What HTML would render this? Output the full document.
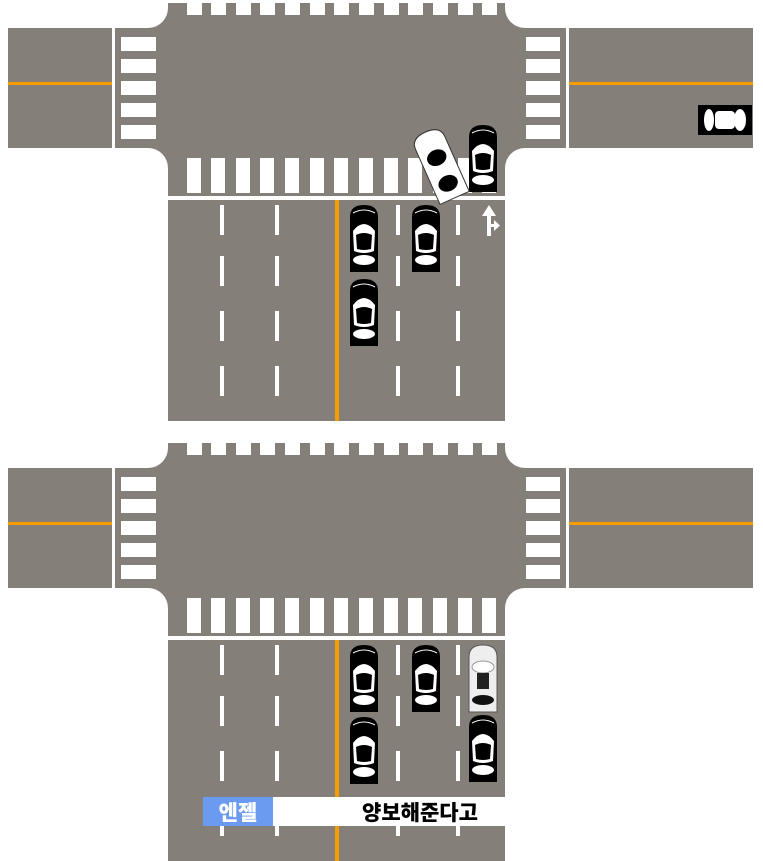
<!DOCTYPE html>
<html><head><meta charset="utf-8"><style>
html,body{margin:0;padding:0;background:#fff;width:763px;height:861px;overflow:hidden}
svg{display:block}
</style></head><body>
<svg width="763" height="861" viewBox="0 0 763 861" xmlns="http://www.w3.org/2000/svg">
<defs>
<g id="car">
  <path d="M0,12 Q0,0 14,0 Q28,0 28,12 L28,67 L0,67 Z" fill="#000"/>
  <path d="M3,26 Q14,12 25,26 L24,46 Q14,50 4,46 Z" fill="#fff"/>
  <path d="M6,30 Q14,26 22,30 L21,44 Q14,46 7,44 Z" fill="#000"/>
  <ellipse cx="14" cy="55" rx="11" ry="5" fill="#fff"/>
  <path d="M3,8 Q14,2 25,8" stroke="#fff" stroke-width="1" fill="none"/>
</g>
<g id="wcar">
  <path d="M0,12 Q0,0 14,0 Q28,0 28,12 L28,67 L0,67 Z" fill="#eee" stroke="#555" stroke-width="1"/>
  <ellipse cx="14" cy="22" rx="11" ry="6" fill="#fff" stroke="#999"/>
  <rect x="8" y="28" width="12" height="16" fill="#222"/>
  <ellipse cx="14" cy="55" rx="11" ry="5" fill="#111"/>
</g>
<g id="scene">
  <rect x="8" y="28" width="104" height="120" fill="#857f79"/>
  <rect x="115" y="28" width="451" height="120" fill="#857f79"/>
  <rect x="569" y="28" width="184" height="120" fill="#857f79"/>
  <rect x="168" y="3" width="337" height="193" fill="#857f79"/>
  <rect x="148" y="8" width="20" height="20" fill="#857f79"/>
  <rect x="505" y="8" width="20" height="20" fill="#857f79"/>
  <rect x="148" y="148" width="20" height="20" fill="#857f79"/>
  <rect x="505" y="148" width="20" height="20" fill="#857f79"/>
  <circle cx="148" cy="8" r="20" fill="#fff"/>
  <circle cx="525" cy="8" r="20" fill="#fff"/>
  <circle cx="148" cy="168" r="20" fill="#fff"/>
  <circle cx="525" cy="168" r="20" fill="#fff"/>
  <rect x="8" y="82" width="104" height="3" fill="#f59d00"/>
  <rect x="569" y="82" width="184" height="3" fill="#f59d00"/>
  <g fill="#fff">
    <rect x="121" y="37" width="35" height="14"/><rect x="121" y="59" width="35" height="14"/>
    <rect x="121" y="81" width="35" height="14"/><rect x="121" y="103" width="35" height="14"/>
    <rect x="121" y="125" width="35" height="14"/>
    <rect x="526" y="37" width="34" height="14"/><rect x="526" y="59" width="34" height="14"/>
    <rect x="526" y="81" width="34" height="14"/><rect x="526" y="103" width="34" height="14"/>
    <rect x="526" y="125" width="34" height="14"/>
  </g>
  <g fill="#fff">
    <rect x="187" y="3" width="15" height="12"/><rect x="211" y="3" width="15" height="12"/>
    <rect x="236" y="3" width="15" height="12"/><rect x="260" y="3" width="15" height="12"/>
    <rect x="285" y="3" width="15" height="12"/><rect x="310" y="3" width="15" height="12"/>
    <rect x="334" y="3" width="15" height="12"/><rect x="359" y="3" width="15" height="12"/>
    <rect x="384" y="3" width="15" height="12"/><rect x="408" y="3" width="15" height="12"/>
    <rect x="433" y="3" width="15" height="12"/><rect x="458" y="3" width="15" height="12"/>
    <rect x="482" y="3" width="15" height="12"/>
  </g>
  <g fill="#fff">
    <rect x="187" y="158" width="14" height="35"/><rect x="211" y="158" width="14" height="35"/>
    <rect x="236" y="158" width="14" height="35"/><rect x="260" y="158" width="14" height="35"/>
    <rect x="285" y="158" width="14" height="35"/><rect x="310" y="158" width="14" height="35"/>
    <rect x="334" y="158" width="14" height="35"/><rect x="359" y="158" width="14" height="35"/>
    <rect x="384" y="158" width="14" height="35"/><rect x="408" y="158" width="14" height="35"/>
    <rect x="433" y="158" width="14" height="35"/><rect x="458" y="158" width="14" height="35"/>
    <rect x="482" y="158" width="14" height="35"/>
  </g>
  <rect x="168" y="200" width="337" height="221" fill="#857f79"/>
  <rect x="335" y="200" width="4" height="221" fill="#f59d00"/>
  <g fill="#fff">
    <rect x="220" y="205" width="4" height="30"/><rect x="275" y="205" width="4" height="30"/>
    <rect x="220" y="256" width="4" height="30"/><rect x="275" y="256" width="4" height="30"/>
    <rect x="220" y="311" width="4" height="30"/><rect x="275" y="311" width="4" height="30"/>
    <rect x="220" y="366" width="4" height="30"/><rect x="275" y="366" width="4" height="30"/>
    <rect x="396" y="205" width="4" height="30"/><rect x="456" y="205" width="4" height="30"/>
    <rect x="396" y="256" width="4" height="30"/><rect x="456" y="256" width="4" height="30"/>
    <rect x="396" y="311" width="4" height="30"/><rect x="456" y="311" width="4" height="30"/>
    <rect x="396" y="366" width="4" height="30"/><rect x="456" y="366" width="4" height="30"/>
  </g>
</g>
</defs>

<use href="#scene"/>
<use href="#scene" y="440"/>

<g fill="#fff">
  <rect x="487" y="212" width="4" height="24"/>
  <path d="M482,216 L489,205 L496,216 Z"/>
  <rect x="489" y="224" width="7" height="3"/>
  <path d="M494,220 L500,225.5 L494,231 Z"/>
</g>
<use href="#car" x="350" y="205"/>
<use href="#car" x="412" y="205"/>
<use href="#car" x="350" y="279"/>
<use href="#car" x="469" y="125"/>
<g transform="translate(440,165) rotate(-24) translate(-16,-36)">
  <path d="M0,12 Q0,0 16,0 Q32,0 32,12 L32,72 L0,72 Z" fill="#fff" stroke="#333" stroke-width="1"/>
  <ellipse cx="16" cy="28" rx="10" ry="8" fill="#000"/>
  <ellipse cx="16" cy="56" rx="10" ry="8" fill="#000"/>
</g>
<g transform="translate(752,105) rotate(90)">
  <rect x="0" y="0" width="30" height="54" fill="#000"/>
  <ellipse cx="15" cy="12" rx="11" ry="6" fill="#fff"/>
  <rect x="6" y="17" width="18" height="20" rx="4" fill="#fff"/>
  <ellipse cx="15" cy="43" rx="11" ry="5" fill="#fff"/>
</g>

<use href="#car" x="350" y="645"/>
<use href="#car" x="412" y="645"/>
<use href="#wcar" x="469" y="645"/>
<use href="#car" x="350" y="717"/>
<use href="#car" x="469" y="715"/>

<rect x="203" y="797" width="70" height="29" fill="#6a9bf0"/>
<rect x="273" y="797" width="232" height="29" fill="#fff"/>
<text x="238" y="820" text-anchor="middle" font-family="'Liberation Sans','Noto Sans CJK KR',sans-serif" font-size="21" font-weight="900" fill="#fff">엔젤</text>
<text x="420" y="820" text-anchor="middle" font-family="'Liberation Sans','Noto Sans CJK KR',sans-serif" font-size="21" font-weight="900" fill="#000">양보해준다고</text>
</svg>
</body></html>
